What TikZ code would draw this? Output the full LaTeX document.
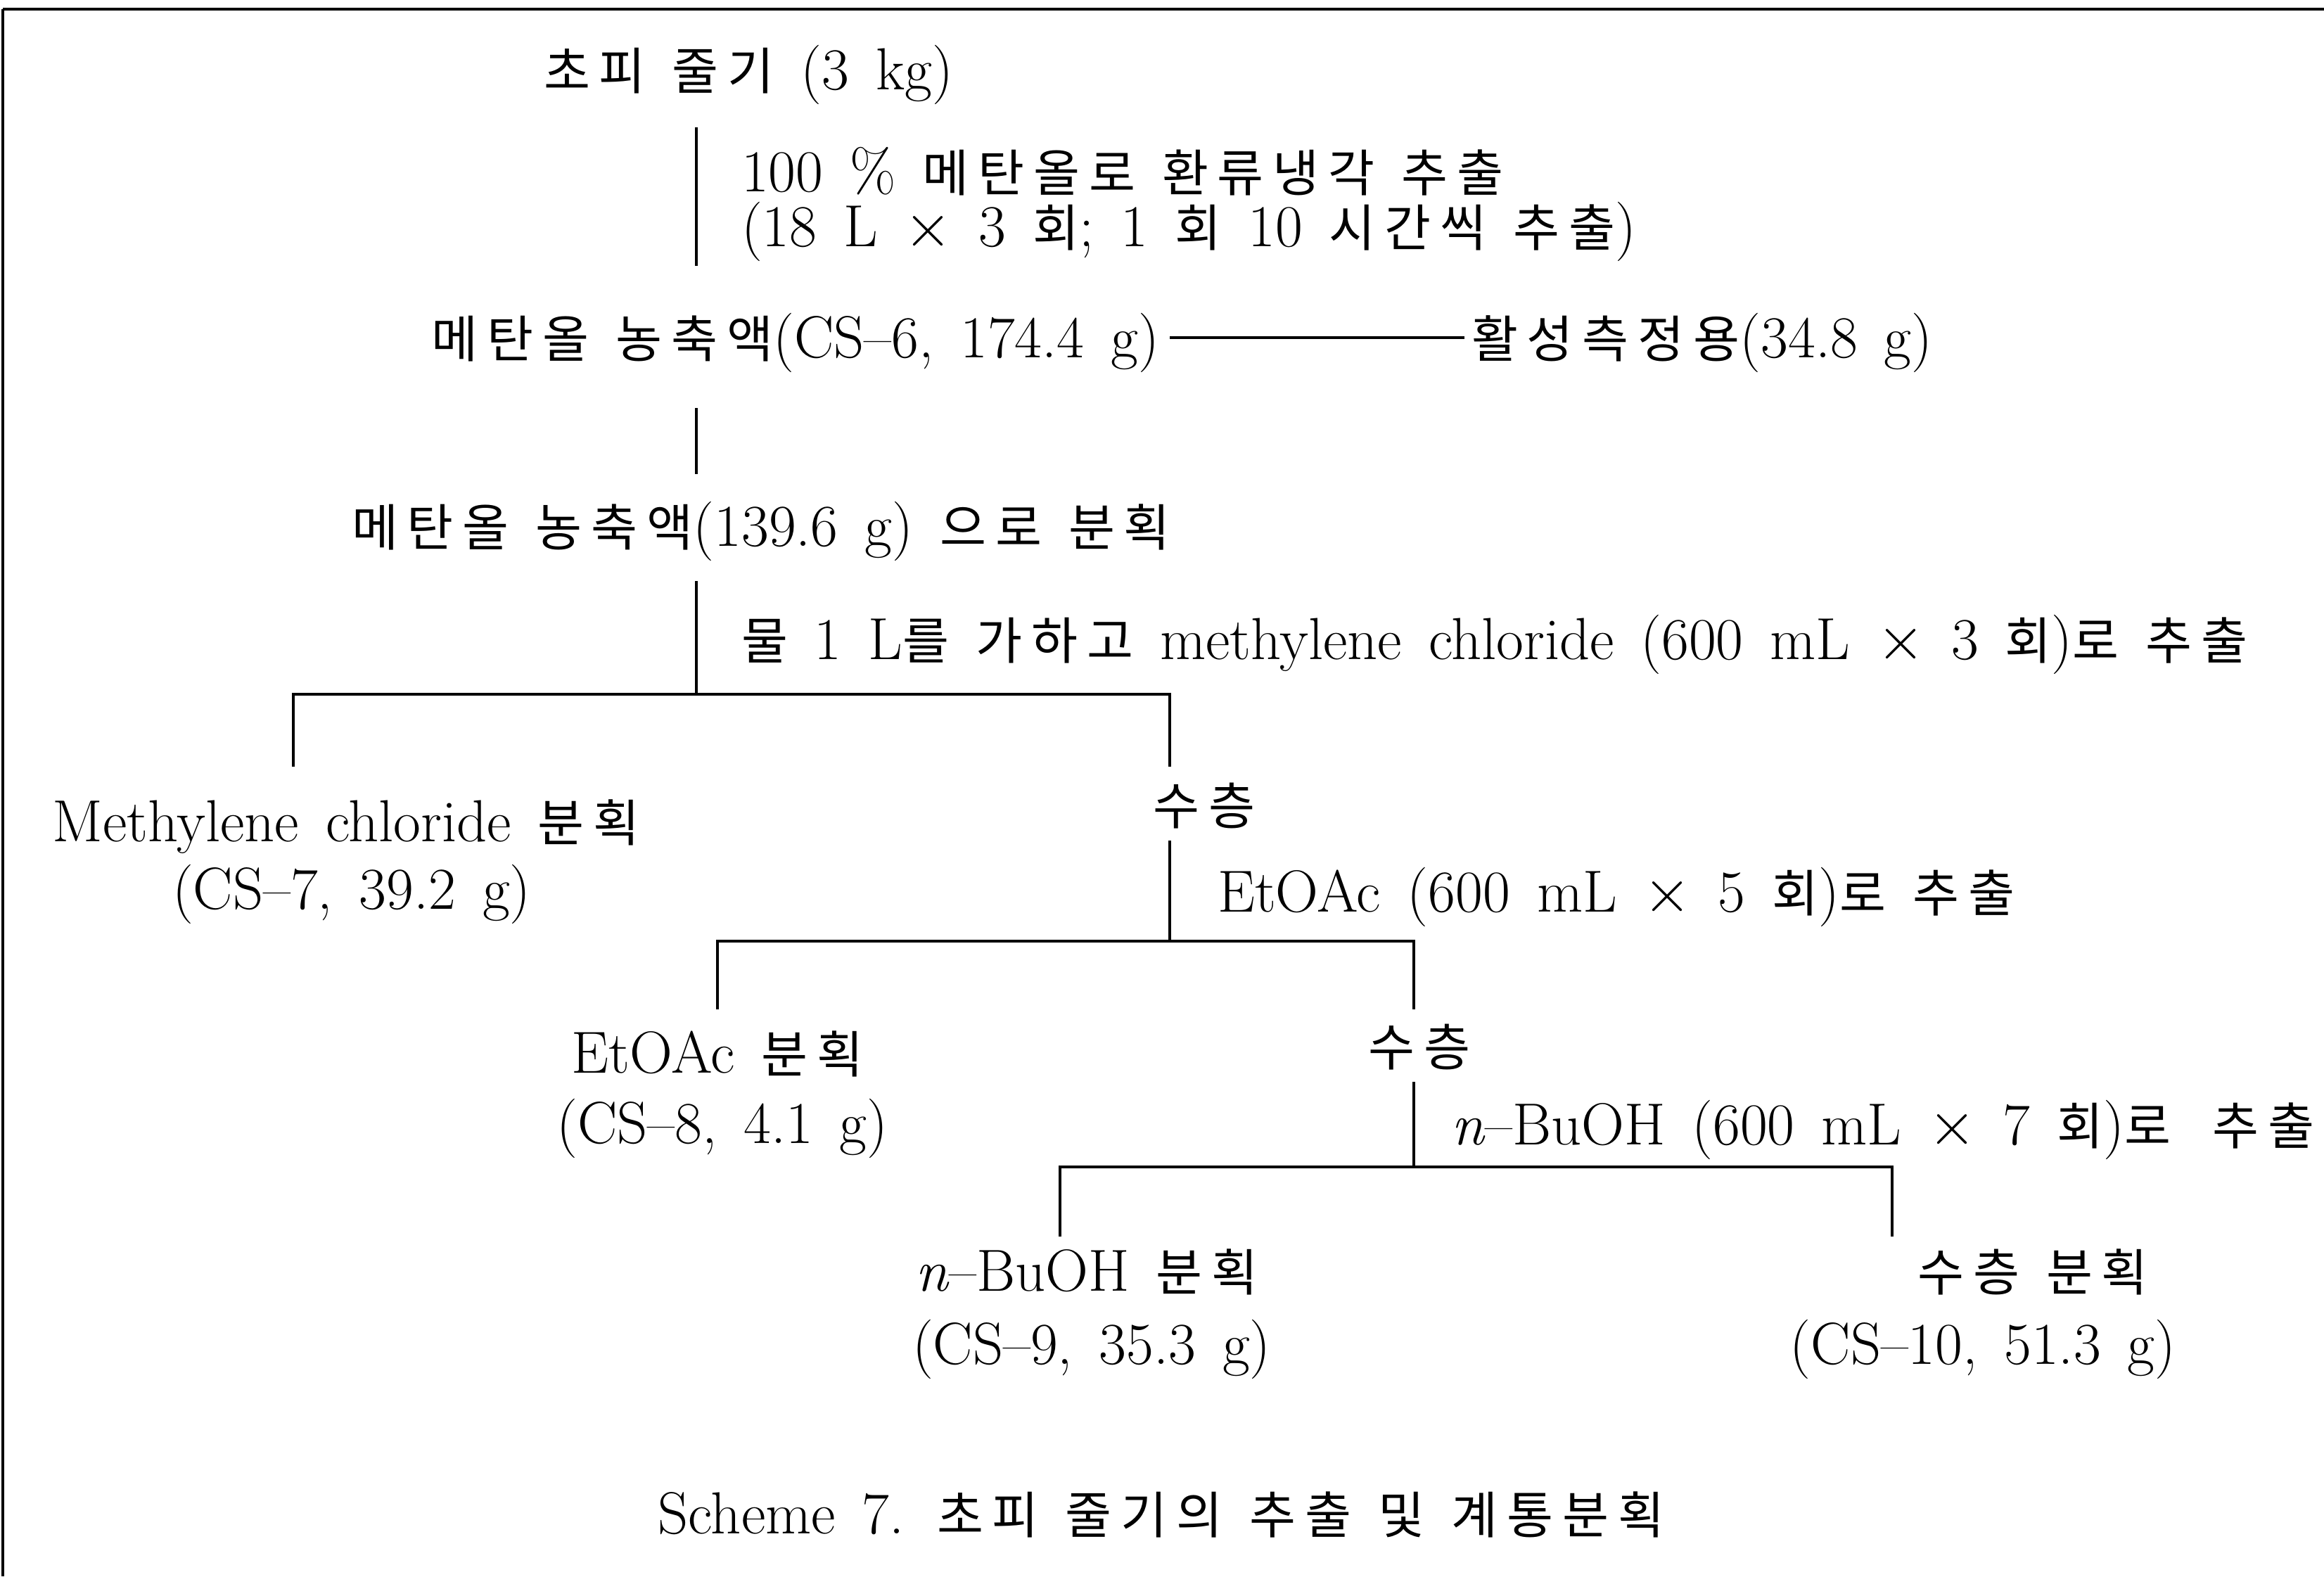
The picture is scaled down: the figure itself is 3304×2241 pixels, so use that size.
\documentclass[tikz,border=0pt]{standalone}
\usepackage{fontspec}
\usetikzlibrary{calc}
\newfontfamily\kr[Scale=0.85, LetterSpace=18]{Noto Sans CJK KR}
\newcommand\hg[1]{{\kr #1}}
\newcommand\lblfont{\fontsize{24}{29}\selectfont\spaceskip=0.45em plus 0.1em minus 0.1em\relax}
\tikzset{
  lbl/.style={inner sep=0pt, outer sep=0pt, font=\lblfont},
  conn/.style={line width=0.9pt, black},
  bar/.style={line width=1.1pt, black},
}
\begin{document}
\begin{tikzpicture}[x=0.01cm, y=-0.01cm]
\useasboundingbox (0,0) rectangle (3304,2241);
\fill[white] (0,0) rectangle (3304,2241);
% frame (top and left only)
\coordinate (fTL) at (4,13);
\coordinate (fTR) at (3304,13);
\coordinate (fBL) at (4,2241);
\draw[line width=1.4pt] (fTR) -- (fTL);
\draw[line width=0.9pt] (fTL) -- (fBL);

% texts
\node[lbl, anchor=base] (n1) at (1064,127) {\hg{초피} \hg{줄기} (3 kg)};
\node[lbl, anchor=base west, text depth=0pt] (n2) at (1054,272) {100 \% \hg{메탄올로} \hg{환류냉각} \hg{추출}};
\node[lbl, anchor=base west] (n3) at (1054,350) {(18 L $\times$ 3 \hg{회}; 1 \hg{회} 10 \hg{시간씩} \hg{추출})};
\node[lbl, anchor=base east] (n4) at (1648,508) {\hg{메탄올} \hg{농축액}(CS--6, 174.4 g)};
\node[lbl, anchor=base west] (n5) at (2092,508) {\hg{활성측정용}(34.8 g)};
\node[lbl, anchor=base] (n6) at (1082,776) {\hg{메탄올} \hg{농축액}(139.6 g) \hg{으로} \hg{분획}};
\node[lbl, anchor=base west] (n7) at (1054,937) {\hg{물} 1 L\hg{를} \hg{가하고} methylene chloride (600 mL $\times$ 3 \hg{회})\hg{로} \hg{추출}};
\node[lbl, anchor=base] (n8) at (492,1196) {Methylene chloride \hg{분획}};
\node[lbl, anchor=base] (n9) at (500,1292) {(CS--7, 39.2 g)};
\node[lbl, anchor=base] (n10) at (1712,1172) {\hg{수층}};
\node[lbl, anchor=base west] (n11) at (1731,1296) {EtOAc (600 mL $\times$ 5 \hg{회})\hg{로} \hg{추출}};
\node[lbl, anchor=base] (n12) at (1020,1525) {EtOAc \hg{분획}};
\node[lbl, anchor=base] (n13) at (1027,1625) {(CS--8, 4.1 g)};
\node[lbl, anchor=base] (n14) at (2018,1515) {\hg{수층}};
\node[lbl, anchor=base west] (n15) at (2063,1627) {\textit{n}--BuOH (600 mL $\times$ 7 \hg{회})\hg{로}\hspace{0.7em}\hg{추출}};
\node[lbl, anchor=base] (n16) at (1545,1835) {\textit{n}--BuOH \hg{분획}};
\node[lbl, anchor=base] (n17) at (1552,1939) {(CS--9, 35.3 g)};
\node[lbl, anchor=base] (n18) at (2890,1835) {\hg{수층} \hg{분획}};
\node[lbl, anchor=base] (n19) at (2819,1939) {(CS--10, 51.3 g)};
\node[lbl, anchor=base] (n20) at (1651,2180) {Scheme 7. \hg{초피} \hg{줄기의} \hg{추출} \hg{및} \hg{계통분획}};

% side branch
\coordinate (s1) at ($(n4.base east)+(15,-28)$);
\coordinate (s2) at ($(n5.base west)+(-10,-28)$);
\draw[conn] (s1) -- (s2);

% main trunk
\coordinate (v1t) at (990,181);
\coordinate (v1b) at (990,378);
\draw[conn] (v1t) -- (v1b);
\coordinate (v2t) at (990,580);
\coordinate (v2b) at (990,674);
\draw[conn] (v2t) -- (v2b);
\coordinate (v3t) at (990,826);
\coordinate (b1c) at (990,987);
\draw[conn] (v3t) -- (b1c);

% split 1
\coordinate (b1l) at (417,987);
\coordinate (b1r) at (1663,987);
\coordinate (d1l) at (417,1090);
\coordinate (d1r) at (1663,1090);
\draw[bar] (d1l) -- (b1l) -- (b1r) -- (d1r);

% split 2
\coordinate (v4t) at (1663,1195);
\coordinate (b2c) at (1663,1338);
\draw[conn] (v4t) -- (b2c);
\coordinate (b2l) at (1020,1338);
\coordinate (b2r) at (2010,1338);
\coordinate (d2l) at (1020,1435);
\coordinate (d2r) at (2010,1435);
\draw[bar] (d2l) -- (b2l) -- (b2r) -- (d2r);

% split 3
\coordinate (v5t) at (2010,1538);
\coordinate (b3c) at (2010,1659);
\draw[conn] (v5t) -- (b3c);
\coordinate (b3l) at (1507,1659);
\coordinate (b3r) at (2690,1659);
\coordinate (d3l) at (1507,1758);
\coordinate (d3r) at (2690,1758);
\draw[bar] (d3l) -- (b3l) -- (b3r) -- (d3r);
\end{tikzpicture}
\end{document}
